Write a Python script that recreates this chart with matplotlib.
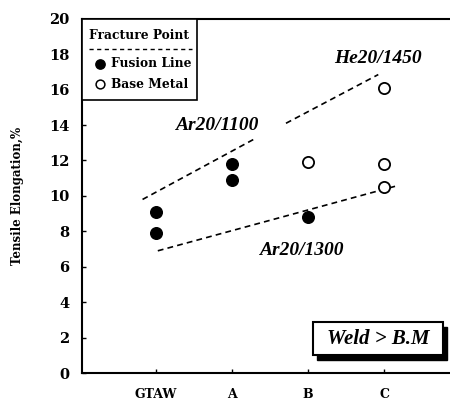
import matplotlib.pyplot as plt
from matplotlib.lines import Line2D
from matplotlib.patches import Rectangle

# ── data ──────────────────────────────────────────────────────────────────────
categories = ['GTAW', 'A', 'B', 'C']
cat_pos = [1, 2, 3, 4]

# fracture at fusion line (filled markers)
fusion_x = [1, 1, 2, 2, 3]
fusion_y = [9.1, 7.9, 11.8, 10.9, 8.8]

# fracture in base metal (open markers)
base_x = [3, 4, 4, 4]
base_y = [11.9, 16.1, 11.8, 10.5]

# dashed trend lines (endpoints in data units)
upper_a_x = [0.83, 2.29]
upper_a_y = [9.8, 13.2]
upper_b_x = [2.71, 3.92]
upper_b_y = [14.1, 16.85]
lower_x = [1.03, 4.19]
lower_y = [6.9, 10.6]

yticks = list(range(0, 21, 2))

serif_bold = dict(family='DejaVu Serif', fontweight='bold')
times_bi = dict(family='Liberation Serif', fontweight='bold', fontstyle='italic')

fig = plt.figure(figsize=(4.5, 4.03), dpi=100)
ax = fig.add_axes([0.182, 0.0744, 0.818, 0.879])

ax.plot(upper_a_x, upper_a_y, ls=(0, (3.5, 2.5)), color='black', lw=1.2)
ax.plot(upper_b_x, upper_b_y, ls=(0, (3.5, 2.5)), color='black', lw=1.2)
ax.plot(lower_x, lower_y, ls=(0, (3.5, 2.5)), color='black', lw=1.2)

ax.scatter(fusion_x, fusion_y, s=70, color='black', zorder=3)
ax.scatter(base_x, base_y, s=65, facecolor='white', edgecolor='black',
           linewidth=1.3, zorder=3)

ax.text(1.25, 13.7, 'Ar20/1100', fontsize=14, **times_bi)
ax.text(3.34, 17.5, 'He20/1450', fontsize=14, **times_bi)
ax.text(2.36, 6.65, 'Ar20/1300', fontsize=14, **times_bi)

ax.set_xlim(0.035, 4.86)
ax.set_ylim(0, 20)
ax.set_xticks(cat_pos)
ax.set_xticklabels(categories, fontsize=9, **serif_bold)
ax.set_yticks(yticks)
ax.set_yticklabels([str(t) for t in yticks], fontsize=10.5, **serif_bold)
ax.tick_params(direction='in', length=3, width=1)
ax.tick_params(axis='x', pad=11)
ax.tick_params(axis='y', pad=9)
ax.spines['right'].set_visible(False)
for s in ['left', 'bottom', 'top']:
    ax.spines[s].set_linewidth(1.5)

ax.set_ylabel('Tensile Elongation,%', fontsize=8.5, labelpad=18, **serif_bold)

# legend box (drawn by hand to get the header + dashed rule)
ax.add_patch(Rectangle((0.0, 0.77), 0.313, 0.23, transform=ax.transAxes,
                       facecolor='white', edgecolor='black', lw=1.2, zorder=4))
ax.text(0.155, 0.953, 'Fracture Point', transform=ax.transAxes, ha='center',
        va='center', fontsize=8.8, zorder=5, **serif_bold)
ax.add_line(Line2D([0.02, 0.298], [0.916, 0.916], transform=ax.transAxes,
                   ls=(0, (3, 2.5)), color='black', lw=1, zorder=5))
ax.scatter([0.048], [0.873], transform=ax.transAxes, s=45, color='black', zorder=5)
ax.text(0.078, 0.873, 'Fusion Line', transform=ax.transAxes, va='center',
        fontsize=8.8, zorder=5, **serif_bold)
ax.scatter([0.048], [0.815], transform=ax.transAxes, s=40, facecolor='white',
           edgecolor='black', linewidth=1.1, zorder=5)
ax.text(0.078, 0.815, 'Base Metal', transform=ax.transAxes, va='center',
        fontsize=8.8, zorder=5, **serif_bold)

# "Weld > B.M" box with drop shadow
ax.add_patch(Rectangle((0.64, 0.037), 0.353, 0.093, transform=ax.transAxes,
                       facecolor='black', edgecolor='black', zorder=4))
ax.add_patch(Rectangle((0.628, 0.051), 0.353, 0.093, transform=ax.transAxes,
                       facecolor='white', edgecolor='black', lw=1.5, zorder=5))
ax.text(0.804, 0.097, 'Weld > B.M', transform=ax.transAxes, ha='center',
        va='center', fontsize=15, zorder=6, **times_bi)

fig.savefig('out.png', dpi=100)
